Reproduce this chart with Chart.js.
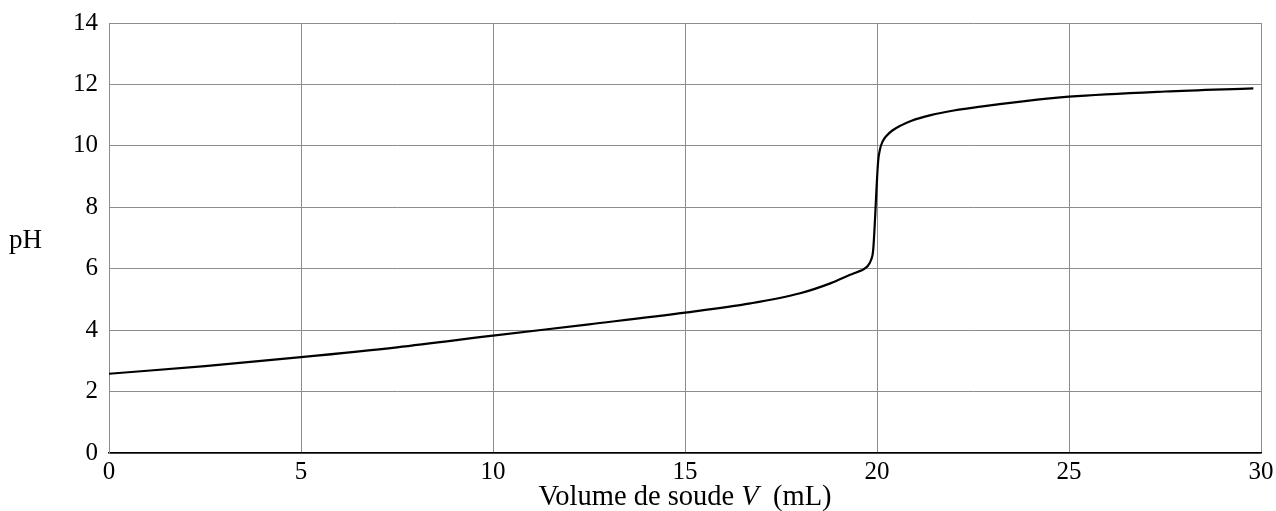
<!DOCTYPE html>
<html>
<head>
<meta charset="utf-8">
<script src="https://cdn.jsdelivr.net/npm/chart.js@4/dist/chart.umd.min.js"></script>
<style>
  html, body { margin: 0; padding: 0; background: #fff; }
  #wrap { width: 1276px; height: 511px; }
</style>
</head>
<body>
<div id="wrap"><canvas id="chart" width="1276" height="511"></canvas></div>
<script>
// ── Data ─────────────────────────────────────
const volumes = [0, 2.5, 5, 7.5, 10, 12.5, 15, 16.7, 18, 18.8, 19.3, 19.5, 19.65, 19.75, 19.85, 19.9, 20.03, 20.08, 20.15, 20.25, 20.4, 20.6, 20.9, 21.4, 22, 22.7, 23.8, 25, 27.5, 29.8];
const phValues = [2.58, 2.83, 3.12, 3.44, 3.82, 4.19, 4.57, 4.87, 5.2, 5.53, 5.8, 5.9, 5.98, 6.08, 6.3, 6.6, 9.5, 9.9, 10.15, 10.33, 10.5, 10.65, 10.82, 11.0, 11.15, 11.28, 11.45, 11.6, 11.77, 11.87];
const xTicks = [0, 5, 10, 15, 20, 25, 30];
const yTicks = [0, 2, 4, 6, 8, 10, 12, 14];

const SERIF = "'Liberation Serif', 'DejaVu Serif', serif";
const GRID = "#8c8c8c";

// ── Axis titles (pH horizontal, V in italic) ─
const titlesPlugin = {
    id: 'titles',
    afterDraw(chart) {
        const c = chart.ctx;
        const area = chart.chartArea;
        c.save();
        c.fillStyle = "#000";
        c.textBaseline = "alphabetic";

        c.font = "27px " + SERIF;
        c.textAlign = "left";
        c.fillText("pH", 9, 248);

        const parts = [
            { t: "Volume de soude ", f: "28.5px " + SERIF },
            { t: "V", f: "italic 28.5px " + SERIF },
            { t: "  (mL)", f: "28.5px " + SERIF }
        ];
        let total = 0;
        parts.forEach(p => { c.font = p.f; total += c.measureText(p.t).width; });
        let x = (area.left + area.right) / 2 - total / 2;
        parts.forEach(p => {
            c.font = p.f;
            c.fillText(p.t, x, 505);
            x += c.measureText(p.t).width;
        });
        c.restore();
    }
};

new Chart(document.getElementById('chart'), {
    type: 'line',
    data: {
        datasets: [{
            data: volumes.map((v, i) => ({ x: v, y: phValues[i] })),
            borderColor: "#000",
            borderWidth: 2.2,
            pointRadius: 0,
            fill: false,
            cubicInterpolationMode: 'monotone'
        }]
    },
    options: {
        responsive: false,
        animation: false,
        layout: { padding: { top: 23, right: 15, left: 0, bottom: 0 } },
        plugins: {
            legend: { display: false },
            tooltip: { enabled: false }
        },
        scales: {
            x: {
                type: 'linear',
                min: 0,
                max: 30,
                afterBuildTicks: axis => { axis.ticks = xTicks.map(v => ({ value: v })); },
                afterFit: axis => {
                    axis.height = 58;
                    axis.paddingLeft = 0;
                    axis.paddingRight = 0;
                },
                grid: { color: GRID, lineWidth: 1, drawTicks: false },
                border: { color: "#000", width: 1.5 },
                ticks: {
                    color: "#000",
                    padding: 4,
                    maxRotation: 0,
                    font: { family: SERIF, size: 25 }
                }
            },
            y: {
                min: 0,
                max: 14,
                afterBuildTicks: axis => { axis.ticks = yTicks.map(v => ({ value: v })); },
                afterFit: axis => {
                    axis.width = 109;
                    axis.paddingTop = 0;
                    axis.paddingBottom = 0;
                },
                grid: { color: GRID, lineWidth: 1, drawTicks: false },
                border: { color: GRID, width: 1 },
                ticks: {
                    color: "#000",
                    padding: 11,
                    font: { family: SERIF, size: 25 }
                }
            }
        }
    },
    plugins: [titlesPlugin]
});
</script>
</body>
</html>
